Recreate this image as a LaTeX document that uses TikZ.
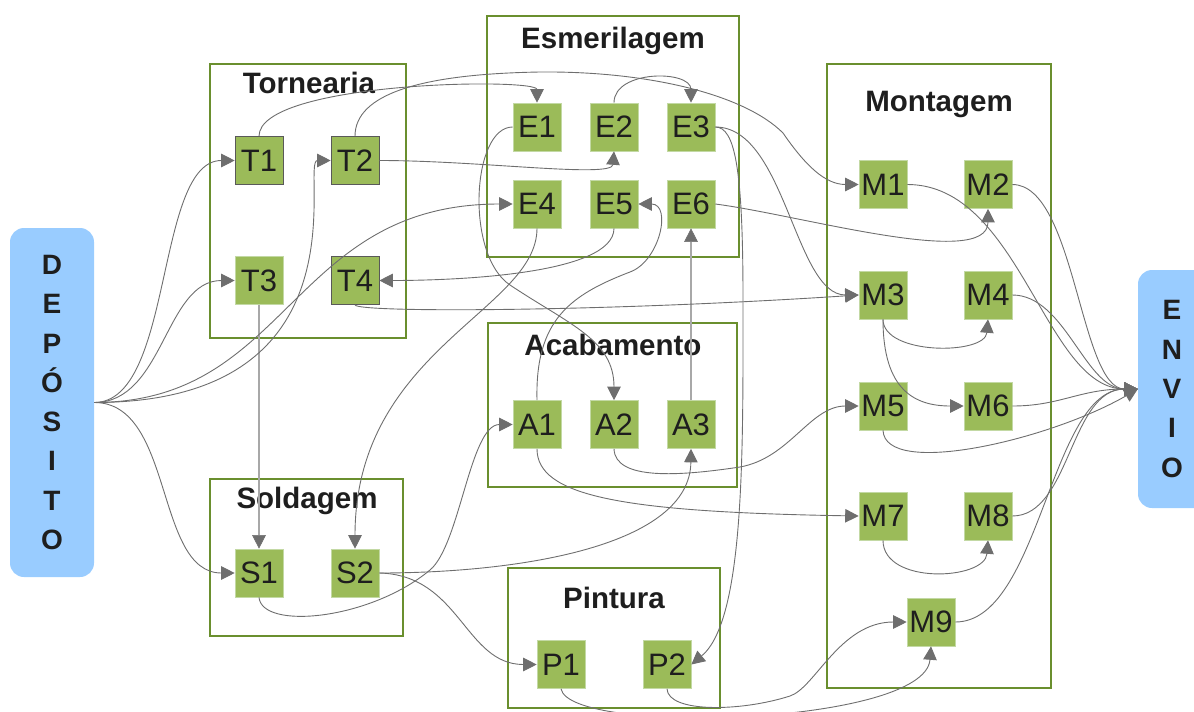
\documentclass[tikz,border=0pt]{standalone}
\usepackage{fontspec}
\setmainfont{Liberation Sans}
\usetikzlibrary{arrows.meta}

\definecolor{cellgreen}{HTML}{9BBB59}
\definecolor{celledge}{HTML}{C3D9A4}
\definecolor{deptgreen}{HTML}{6A8F2E}
\definecolor{endblue}{HTML}{99CCFF}
\definecolor{flowgray}{HTML}{6E6E6E}
\definecolor{railgray}{HTML}{A8A8A8}
\definecolor{inkblack}{HTML}{1E1E1E}

\begin{document}
\begin{tikzpicture}[x=1pt,y=-1pt,
  cell/.style={rectangle, fill=cellgreen, draw=celledge, line width=0.6pt,
    minimum size=48pt, inner sep=0pt, text=inkblack,
    font=\fontsize{31}{31}\selectfont},
  cellrim/.style={draw=black!65},
  dept/.style={rectangle, draw=deptgreen, line width=2pt, inner sep=0pt},
  depttitle/.style={anchor=base, inner sep=0pt, text=inkblack,
    font=\bfseries\fontsize{29.5}{29.5}\selectfont},
  terminal/.style={rectangle, rounded corners=14pt, fill=endblue, inner sep=0pt},
  letters/.style={align=center, inner sep=0pt, text=inkblack,
    font=\bfseries\fontsize{28}{39.3}\selectfont},
  flow/.style={draw=flowgray, line width=0.9pt,
    -{Triangle[length=13.5pt,width=13.5pt]}},
  rail/.style={draw=railgray, line width=1.8pt,
    -{Triangle[length=13.5pt,width=13.5pt,color=flowgray,line width=0.5pt]}}
]
\useasboundingbox (0,0) rectangle (1194,712);
\clip (0,0) rectangle (1194,712);

% departments
\node[dept, minimum width=196pt, minimum height=274pt] (torn) at (308,201) {};
\node[dept, minimum width=252pt, minimum height=241pt] (esme) at (613,136.5) {};
\node[dept, minimum width=249pt, minimum height=164pt] (acab) at (612.5,405) {};
\node[dept, minimum width=193pt, minimum height=157pt] (sold) at (306.5,557.5) {};
\node[dept, minimum width=212pt, minimum height=140pt] (pint) at (614,638) {};
\node[dept, minimum width=224pt, minimum height=624pt] (mont) at (939,376) {};

\node[depttitle] (tornT) at (309,93) {Tornearia};
\node[depttitle] (esmeT) at (613,48) {Esmerilagem};
\node[depttitle] (acabT) at (613,355) {Acabamento};
\node[depttitle] (soldT) at (307,508) {Soldagem};
\node[depttitle] (pintT) at (614,608) {Pintura};
\node[depttitle] (montT) at (939,111) {Montagem};

% store and shipping
\node[terminal, minimum width=84pt, minimum height=349pt] (dep) at (52,402.5) {};
\node[letters] (depT) at (52,402.5) {D\\E\\P\\Ó\\S\\I\\T\\O};
\node[terminal, minimum width=80pt, minimum height=238pt] (envio) at (1178,389) {};
\node[letters] (envT) at (1172,389) {E\\N\\V\\I\\O};

% work cells
\node[cell, cellrim] (T1) at (259,160.5) {T1};
\node[cell, cellrim] (T2) at (355,160.5) {T2};
\node[cell] (T3) at (259,280.5) {T3};
\node[cell, cellrim] (T4) at (355,280.5) {T4};

\node[cell] (E1) at (537,127) {E1};
\node[cell] (E2) at (614,127) {E2};
\node[cell] (E3) at (691,127) {E3};
\node[cell] (E4) at (537,204) {E4};
\node[cell] (E5) at (614,204) {E5};
\node[cell] (E6) at (691,204) {E6};

\node[cell] (A1) at (537,424.5) {A1};
\node[cell] (A2) at (614,424.5) {A2};
\node[cell] (A3) at (691,424.5) {A3};

\node[cell] (S1) at (259,573) {S1};
\node[cell] (S2) at (355,573) {S2};

\node[cell] (P1) at (561,664.5) {P1};
\node[cell] (P2) at (667,664.5) {P2};

\node[cell] (M1) at (883,184.5) {M1};
\node[cell] (M2) at (988,184.5) {M2};
\node[cell] (M3) at (883,295) {M3};
\node[cell] (M4) at (988,295) {M4};
\node[cell] (M5) at (883,406) {M5};
\node[cell] (M6) at (988,406) {M6};
\node[cell] (M7) at (883,516) {M7};
\node[cell] (M8) at (988,516) {M8};
\node[cell] (M9) at (931,622) {M9};

% straight transfers
\draw[rail] (T3.south) -- (S1.north);
\draw[rail] (A3.north) -- (E6.south);

% from the store
\draw[flow] (dep.east) .. controls +(80,0) and +(-80,0) .. (T1.west);
\draw[flow] (dep.east) .. controls +(70,0) and +(-70,0) .. (T3.west);
\draw[flow] (dep.east) .. controls +(278,0) and +(-31,0) .. (T2.west);
\draw[flow] (dep.east) .. controls +(196,0) and +(-223,0) .. (E4.west);
\draw[flow] (dep.east) .. controls +(80,0) and +(-80,0) .. (S1.west);

% turning
\draw[flow] (T1.north) .. controls +(0,-55) and +(0,-25) .. (E1.north);
\draw[flow] (T2.north) .. controls +(0,-42) and (420,74) .. (540,72)
  .. controls (650,71) and (745,95) .. (783,133)
  .. controls (805,165) and (825,184.5) .. (M1.west);
\draw[flow] (T2.east) .. controls +(101,0) and +(-2,27) .. (E2.south);
\draw[flow] (T4.south) .. controls +(0,8) and (600,312) .. (M3.west);

% grinding
\draw[flow] (E2.north) .. controls +(0,-33) and +(0,-33) .. (E3.north);
\draw[flow] (E1.west) .. controls +(-41,0) and (465,255) .. (510,285)
  .. controls (570,325) and (614,340) .. (A2.north);
\draw[flow] (E4.south) .. controls +(0,82) and +(0,-199) .. (S2.north);
\draw[flow] (E5.south) .. controls +(0,47) and +(71,0) .. (T4.east);
\draw[flow] (E6.east) .. controls +(85,11) and +(0,61) .. (M2.south);
\draw[flow] (E3.east) .. controls +(70,0) and +(-64,0) .. (M3.west);
\draw[flow] (E3.east) .. controls +(20,0) and (743,170) .. (743,300)
  .. controls (743,450) and (745,620) .. (P2.east);

% finishing
\draw[flow] (A1.north) .. controls +(-2,-80) and (570,295) .. (630,272)
  .. controls (660,261) and (672,204) .. (E5.east);
\draw[flow] (A1.south) .. controls +(0,47) and +(-239,-4) .. (M7.west);
\draw[flow] (A2.south) .. controls +(1,32) and (680,476) .. (740,467)
  .. controls (790,458) and (810,406) .. (M5.west);

% welding
\draw[flow] (S1.south) .. controls +(3,33) and (370,620) .. (430,570)
  .. controls (460,545) and (470,424.5) .. (A1.west);
\draw[flow] (S2.east) .. controls +(141,0) and +(-1,97) .. (A3.south);
\draw[flow] (S2.east) .. controls +(81,2) and +(-72,0) .. (P1.west);

% painting
\draw[flow] (P2.south) .. controls +(1,24) and (740,712) .. (790,696)
  .. controls (815,688) and (840,622) .. (M9.west);
\draw[flow] (P1.south) .. controls +(9,47) and +(-6,79) .. (M9.south);

% assembly
\draw[flow] (M3.south) .. controls +(0,36) and +(-3,36) .. (M4.south);
\draw[flow] (M3.south) .. controls +(0,71) and +(-49,0) .. (M6.west);
\draw[flow] (M7.south) .. controls +(0,45) and +(-3,40) .. (M8.south);

% to shipping
\draw[flow] (M1.east) .. controls +(113,0) and +(-93,0) .. (envio.west);
\draw[flow] (M2.east) .. controls +(63,0) and +(-58,0) .. (envio.west);
\draw[flow] (M4.east) .. controls +(53,0) and +(-53,0) .. (envio.west);
\draw[flow] (M6.east) .. controls +(48,0) and +(-58,0) .. (envio.west);
\draw[flow] (M5.south) .. controls +(2,48) and +(-88,51) .. (envio.west);
\draw[flow] (M8.east) .. controls +(58,0) and +(-68,0) .. (envio.west);
\draw[flow] (M9.east) .. controls +(85,0) and +(-88,0) .. (envio.west);
\end{tikzpicture}
\end{document}
